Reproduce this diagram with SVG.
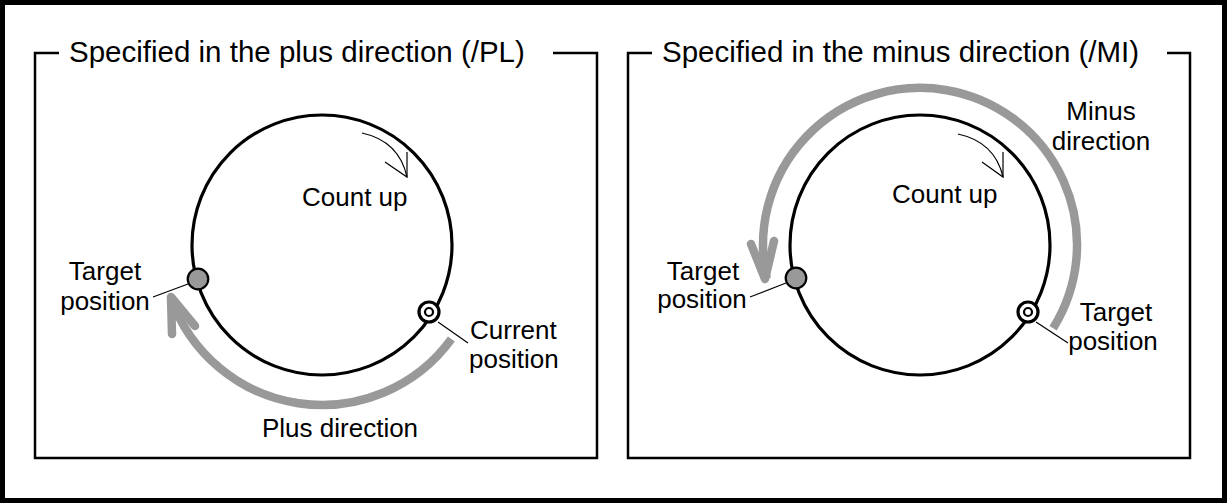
<svg xmlns="http://www.w3.org/2000/svg" width="1227" height="503" viewBox="0 0 1227 503">
<defs>
<style>
text{font-family:"Liberation Sans",Arial,sans-serif;fill:#000;}
.title{font-size:29.5px;}
.lbl{font-size:26px;}
.mid{text-anchor:middle;}
.frame{fill:none;stroke:#000;stroke-width:2.5;}
.ring{fill:none;stroke:#000;stroke-width:3.2;}
.gray{fill:none;stroke:#999;stroke-width:8.5;}
.head{fill:none;stroke:#999;stroke-width:8.5;stroke-linecap:round;stroke-linejoin:round;}
.thin{fill:none;stroke:#000;stroke-width:1.2;}
.dot{fill:#999;stroke:#000;stroke-width:2.2;}
.mk{fill:#fff;stroke:#000;stroke-width:3.2;}
.mki{fill:#fff;stroke:#000;stroke-width:2.2;}
</style>
</defs>
<rect x="2.5" y="2.5" width="1222" height="498" fill="#fff" stroke="#000" stroke-width="5"/>

<g id="panel-plus">
<path class="frame" d="M59,53 H35 V458 H597 V53 H553"/>
<text class="title" x="69" y="62">Specified in the plus direction (/PL)</text>
</g>
<g id="panel-minus">
<path class="frame" d="M652,53 H628 V458 H1190 V53 H1167"/>
<text class="title" x="662" y="62">Specified in the minus direction (/MI)</text>
</g>

<g id="connectors">
<!-- left panel -->
<path class="gray" d="M451.4,339 A160,160 0 0 1 170.7,297.1"/>
<polyline class="head" points="172,334 171,297 195,326"/>
<path class="thin" d="M362,133 Q399,141 407,177"/>
<polyline class="thin" points="385,162 407,177 407,152"/>
<line class="thin" x1="188" y1="284" x2="153" y2="297"/>
<line class="thin" x1="438" y1="322" x2="468" y2="343"/>
<!-- right panel -->
<path class="gray" d="M1053.1,328.2 A157,157 0 1 0 766.7,278.7"/>
<polyline class="head" points="751,244 765,279 774,241"/>
<path class="thin" d="M958,134 Q995,142 1003,177"/>
<polyline class="thin" points="982,162 1003,177 1003,152"/>
<line class="thin" x1="786" y1="283" x2="750" y2="297"/>
<line class="thin" x1="1036" y1="322" x2="1068" y2="343"/>
</g>

<g id="circle-plus">
<circle class="ring" cx="322" cy="245" r="130"/>
<text class="lbl" x="302" y="206">Count up</text>
</g>
<g id="target-plus">
<circle class="dot" cx="198" cy="279" r="10.3"/>
<text class="lbl mid" x="105" y="280">Target</text>
<text class="lbl mid" x="105" y="310">position</text>
</g>
<g id="current-plus">
<circle class="mk" cx="429" cy="312" r="10"/>
<circle class="mki" cx="429" cy="312" r="4"/>
<text class="lbl" x="470" y="339">Current</text>
<text class="lbl" x="469" y="368">position</text>
</g>
<g id="label-plus-dir">
<text class="lbl" x="262" y="437">Plus direction</text>
</g>

<g id="circle-minus">
<circle class="ring" cx="920" cy="245" r="130"/>
<text class="lbl" x="892" y="203">Count up</text>
</g>
<g id="target-minus-left">
<circle class="dot" cx="796" cy="278" r="10.3"/>
<text class="lbl mid" x="703" y="280">Target</text>
<text class="lbl mid" x="702" y="308">position</text>
</g>
<g id="target-minus-right">
<circle class="mk" cx="1028" cy="312" r="10"/>
<circle class="mki" cx="1028" cy="312" r="4"/>
<text class="lbl mid" x="1116" y="321">Target</text>
<text class="lbl mid" x="1113" y="350">position</text>
</g>
<g id="label-minus-dir">
<text class="lbl mid" x="1101" y="120">Minus</text>
<text class="lbl mid" x="1101" y="150">direction</text>
</g>
</svg>
